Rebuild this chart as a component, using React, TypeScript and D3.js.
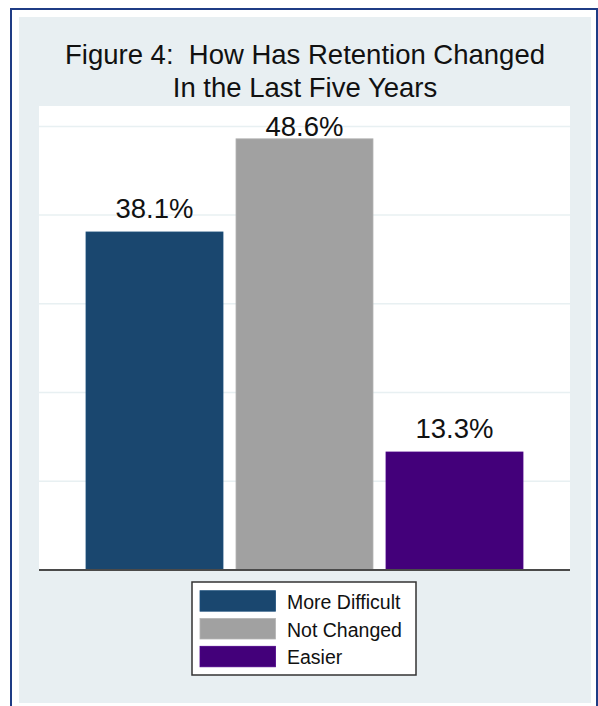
import React from "react";
import * as d3 from "d3";

const categories = ["More Difficult", "Not Changed", "Easier"];
const values = [38.1, 48.6, 13.3];
const colors = ["#1a476f", "#a1a1a1", "#43007a"];
const gridTicks = [10, 20, 30, 40, 50];
const titleLines = ["Figure 4:  How Has Retention Changed", "In the Last Five Years"];

const W = 598;
const H = 706;
const FONT = "'Liberation Sans', Arial, Helvetica, sans-serif";

export default function App() {
  const outer = { left: 19, top: 17, right: 591, bottom: 703 };
  const plot = { left: 39, top: 106, right: 570, bottom: 570 };

  const x = d3
    .scaleBand<string>()
    .domain(categories)
    .range([plot.left + 47, plot.right - 47])
    .paddingInner(13 / 150)
    .paddingOuter(0);
  const y = d3.scaleLinear().domain([0, 52.3]).range([plot.bottom, plot.top]);

  const cx = (outer.left + outer.right) / 2;

  const legend = { x: 192, y: 582, w: 224, h: 93 };
  const rowPitch = 27.8;

  return (
    <svg
      width={W}
      height={H}
      style={{ position: "absolute", left: 0, top: 0, display: "block" }}
      fontFamily={FONT}
    >
      <rect x={0} y={0} width={W} height={H} fill="#ffffff" />
      {/* outer frame */}
      <rect
        x={11}
        y={9}
        width={586}
        height={H + 20}
        fill="#ffffff"
        stroke="#1f3c85"
        strokeWidth={2}
      />
      {/* graph region */}
      <rect
        x={outer.left}
        y={outer.top}
        width={outer.right - outer.left}
        height={outer.bottom - outer.top}
        fill="#e8eff2"
      />
      {/* plot region */}
      <rect
        x={plot.left}
        y={plot.top}
        width={plot.right - plot.left}
        height={plot.bottom - plot.top}
        fill="#ffffff"
      />
      {/* gridlines */}
      {gridTicks.map((t) => (
        <line
          key={t}
          x1={plot.left}
          x2={plot.right}
          y1={y(t)}
          y2={y(t)}
          stroke="#e8f0f2"
          strokeWidth={1.5}
        />
      ))}
      {/* title */}
      {titleLines.map((t, i) => (
        <text
          key={i}
          x={cx}
          y={64 + i * 33}
          textAnchor="middle"
          fontSize={27.5}
          fill="#111"
          style={{ whiteSpace: "pre" }}
        >
          {t}
        </text>
      ))}
      {/* bars */}
      {categories.map((c, i) => (
        <rect
          key={c}
          x={x(c)}
          y={y(values[i])}
          width={x.bandwidth()}
          height={plot.bottom - y(values[i])}
          fill={colors[i]}
          stroke={d3.color(colors[i])!.brighter(0.3).toString()}
          strokeWidth={0.8}
        />
      ))}
      {/* value labels */}
      {categories.map((c, i) => (
        <text
          key={c}
          x={(x(c) as number) + x.bandwidth() / 2}
          y={Math.max(y(values[i]) - 14, plot.top + 30)}
          textAnchor="middle"
          fontSize={27.5}
          fill="#111"
        >
          {values[i].toFixed(1)}%
        </text>
      ))}
      {/* axis line */}
      <line
        x1={plot.left}
        x2={plot.right}
        y1={plot.bottom}
        y2={plot.bottom}
        stroke="#4a4a4a"
        strokeWidth={2}
      />
      {/* legend */}
      <rect
        x={legend.x}
        y={legend.y}
        width={legend.w}
        height={legend.h}
        fill="#ffffff"
        stroke="#333"
        strokeWidth={1.5}
      />
      {categories.map((c, i) => (
        <g key={c}>
          <rect
            x={legend.x + 8}
            y={legend.y + 8.7 + i * rowPitch}
            width={75.5}
            height={20.5}
            fill={colors[i]}
            stroke={d3.color(colors[i])!.brighter(0.3).toString()}
            strokeWidth={0.8}
          />
          <text
            x={legend.x + 95}
            y={legend.y + 26.7 + i * rowPitch}
            fontSize={19.5}
            fill="#111"
          >
            {c}
          </text>
        </g>
      ))}
    </svg>
  );
}
